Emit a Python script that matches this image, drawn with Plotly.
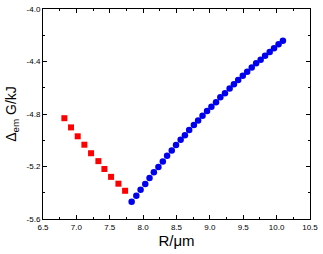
import plotly.graph_objects as go

red_x = [6.82, 6.92, 7.02, 7.12, 7.22, 7.33, 7.42, 7.52, 7.63, 7.73]
red_y = [-4.832, -4.902, -4.970, -5.034, -5.099, -5.159, -5.219, -5.279, -5.331, -5.385]

blue_x = [7.828, 7.898, 7.962, 8.032, 8.096, 8.161, 8.229, 8.295, 8.359, 8.429,
          8.493, 8.562, 8.626, 8.690, 8.760, 8.824, 8.890, 8.958, 9.023, 9.092,
          9.157, 9.226, 9.296, 9.360, 9.424, 9.493, 9.559, 9.627, 9.693, 9.761,
          9.827, 9.896, 9.961, 10.029, 10.094]
blue_y = [-5.468, -5.423, -5.378, -5.333, -5.288, -5.243, -5.204, -5.161, -5.119, -5.079,
          -5.037, -4.997, -4.962, -4.921, -4.884, -4.850, -4.813, -4.778, -4.744, -4.710,
          -4.673, -4.641, -4.606, -4.573, -4.541, -4.508, -4.479, -4.446, -4.413, -4.387,
          -4.357, -4.327, -4.299, -4.269, -4.241]

x_ticks = [6.5, 7.0, 7.5, 8.0, 8.5, 9.0, 9.5, 10.0, 10.5]
y_ticks = [-5.6, -5.2, -4.8, -4.4, -4.0]

fig = go.Figure()
fig.add_trace(go.Scatter(x=red_x, y=red_y, mode="markers",
                         marker=dict(symbol="square", size=6, color="#ff0000"),
                         showlegend=False))
fig.add_trace(go.Scatter(x=blue_x, y=blue_y, mode="markers",
                         marker=dict(symbol="circle", size=6.5, color="#0000ee"),
                         showlegend=False))

axis_common = dict(showline=True, linecolor="black", linewidth=1, mirror="allticks",
                   ticks="inside", ticklen=4, tickwidth=1, tickcolor="black",
                   showgrid=False, zeroline=False,
                   tickfont=dict(family="Liberation Sans, Arial", size=8, color="black"))

fig.update_xaxes(range=[6.5, 10.5], tickvals=x_ticks,
                 ticktext=[f"{v:.1f}" for v in x_ticks],
                 minor=dict(dtick=0.25, ticks="inside", ticklen=2, tickcolor="black"),
                 title=dict(text="R/μm", font=dict(family="Liberation Sans, Arial", size=15, color="black"),
                            standoff=3),
                 **axis_common)
fig.update_yaxes(range=[-5.6, -4.0], tickvals=y_ticks,
                 ticktext=[f"{v:.1f}" for v in y_ticks],
                 minor=dict(dtick=0.2, ticks="inside", ticklen=2, tickcolor="black"),
                 title=dict(text="Δ<sub>em</sub> G/kJ", font=dict(family="Liberation Sans, Arial", size=14, color="black"),
                            standoff=6),
                 **axis_common)

fig.update_layout(width=323, height=254, margin=dict(l=43, r=11, t=5, b=35),
                  plot_bgcolor="white", paper_bgcolor="white")

fig.write_html("out.html")
